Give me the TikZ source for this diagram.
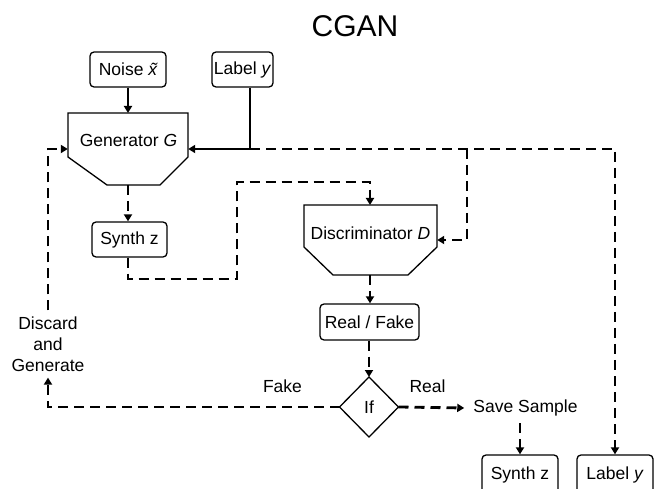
\documentclass[tikz,border=0pt]{standalone}
\usepackage{fontspec}
\setmainfont{Liberation Sans}
\usetikzlibrary{arrows.meta}
\begin{document}
\begin{tikzpicture}[x=1pt,y=-1pt,
  every node/.style={font=\fontsize{17.5}{21}\selectfont, inner sep=0pt},
  box/.style={draw, rounded corners=4pt, line width=1.3pt, minimum height=35pt},
  shapeline/.style={draw, line width=1.3pt, line join=miter},
  tip/.style={-{Triangle[length=7pt,width=8pt]}},
  solidc/.style={line width=2.8pt, tip},
  dashc/.style={line width=2.8pt, dash pattern=on 10pt off 6pt, tip}]
\useasboundingbox (0,0) rectangle (670,489);
\clip (0,0) rectangle (670,489);

\node[font=\fontsize{30}{36}\selectfont] (title) at (355,26) {CGAN};

% top inputs
\node[box, minimum width=76pt] (noise) at (128,69.5) {Noise \textit{x̃}};
\node[box, minimum width=61pt] (labely) at (242.5,69.5) {Label \textit{y}};

% generator
\node[minimum width=120pt, minimum height=72pt] (gen) at (128,149) {};
\draw[shapeline] (68,113) -- (188,113) -- (188,157) -- (160,185) -- (107,185) -- (68,157) -- cycle;
\node (gentxt) at (128.5,140) {Generator \textit{G}};

% synth z
\node[box, minimum width=75pt] (synth) at (129.5,239.5) {Synth z};

% discriminator
\node[minimum width=133pt, minimum height=70pt] (disc) at (370.5,240) {};
\draw[shapeline] (304,205) -- (437,205) -- (437,247) -- (408,275) -- (333,275) -- (304,247) -- cycle;
\node (disctxt) at (370.5,233) {Discriminator \textit{D}};

% real/fake
\node[box, minimum width=99pt, minimum height=36pt] (rf) at (369.5,322) {Real / Fake};

% decision
\draw[shapeline] (369,377) -- (398.5,407) -- (369,437) -- (339.5,407) -- cycle;
\node (if) at (369,407) {If};
\coordinate (ifN) at (369,377);
\coordinate (ifE) at (398.5,407);
\coordinate (ifW) at (339.5,407);

% outputs
\node[inner xsep=9pt, inner ysep=7pt] (save) at (525.5,408) {Save Sample};
\node[box, minimum width=76pt, minimum height=40pt] (synth2) at (520,475) {Synth z};
\node[box, minimum width=76pt, minimum height=40pt] (labely2) at (615,475) {Label \textit{y}};

% discard
\node[align=center, inner ysep=6pt] (discard) at (48,344) {Discard\\and\\Generate};

% labels
\node (fake) at (282.5,386) {Fake};
\node (real) at (427.5,386) {Real};

% connectors
\draw[solidc] (noise.south) -- (128,113);
\coordinate (lj) at (250,149);
\draw[solidc] ([xshift=7.5pt]labely.south) -- (lj) -- (gen.east);
\draw[dashc] (lj) -- (615,149) -- (labely2.north);
\draw[dashc] (467,149) -- (467,240) -- (disc.east);
\draw[dashc] (128,185) -- (synth.north -| 128,0);
\draw[dashc] (synth.south -| 128,0) -- (128,279) -- (237,279) -- (237,182) -- (370,182) -- (370,205);
\draw[dashc] (370,275) -- (rf.north -| 370,0);
\draw[dashc] (rf.south -| 369,0) -- (ifN);
\draw[dashc] (ifE) -- (save.west);
\draw[dashc] (save.south -| 520,0) -- (synth2.north);
\draw[dashc] (ifW) -- (48,407) -- (discard.south);
\draw[dashc] (discard.north) -- (48,149) -- (gen.west);
\end{tikzpicture}
\end{document}
